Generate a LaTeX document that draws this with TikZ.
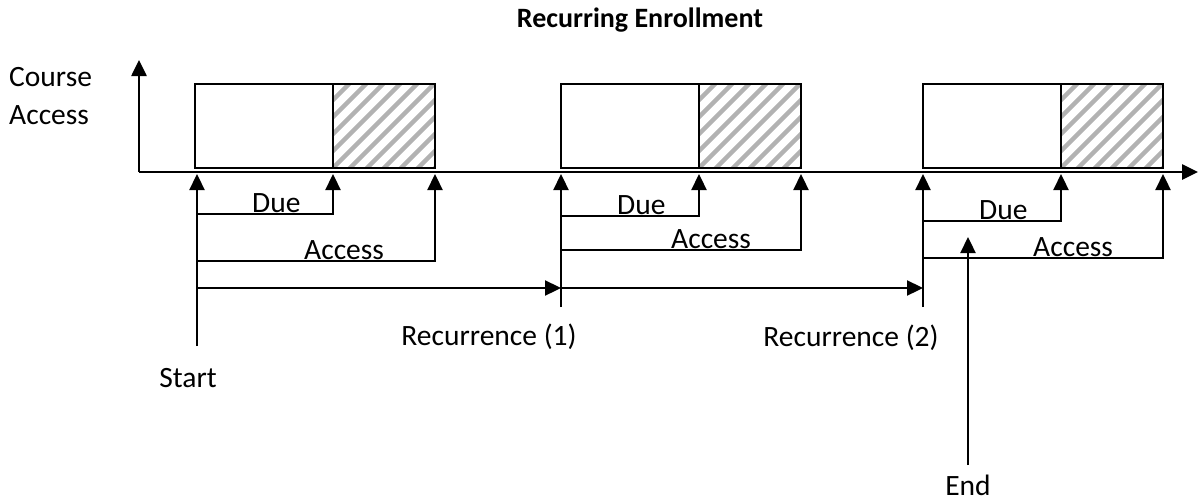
\documentclass[tikz,border=0pt]{standalone}
\usepackage{fontspec}
\setmainfont{Carlito}
\usetikzlibrary{arrows.meta}
\begin{document}
\begin{tikzpicture}[x=1pt,y=-1pt,
  arr/.style={line width=2.3pt,line join=miter,-{Triangle[length=16pt,width=15pt]}},
  axisline/.style={line width=2.6pt,-{Triangle[length=16pt,width=15pt]}},
  boxline/.style={line width=1.8pt},
  hatch/.style={line width=4.5pt,draw=black!30},
  lbl/.style={font=\fontsize{29.5}{35}\selectfont,inner sep=0pt},
  ttl/.style={font=\fontsize{28}{34}\selectfont\bfseries,inner sep=0pt}]
\useasboundingbox (0,0) rectangle (1199,501);

% title and axis labels
\node[ttl] (title) at (640,20) {Recurring Enrollment};
\node[lbl,anchor=west] (course) at (9,77) {Course};
\node[lbl,anchor=west] (access) at (9,115) {Access};

% boxes with hatching
\foreach \n/\l/\d/\r in {1/195/333/435,2/561/699/801,3/923/1061/1163}{
  \coordinate (tl\n) at (\l,84);
  \coordinate (br\n) at (\r,168);
  \coordinate (dt\n) at (\d,84);
  \coordinate (db\n) at (\d,168);
  \begin{scope}
    \clip (dt\n) rectangle (br\n);
    \foreach \k in {-6,...,7}{
      \draw[hatch] (\d+\k*17-10,178) -- (\d+\k*17+94,74);
    }
  \end{scope}
  \draw[boxline] (tl\n) rectangle (br\n);
  \draw[boxline] (dt\n) -- (db\n);
}

% axes
\coordinate (O) at (139,172);
\coordinate (Ytop) at (139,60);
\coordinate (Xend) at (1198,172);
\draw[axisline] (O) -- (Ytop);
\draw[axisline] (O) -- (Xend);

% period arrows
\foreach \n/\x/\d/\r/\dy/\ay/\bot in {1/197/333/435/214/261/346,2/561/699/801/216/250/307,3/923/1061/1163/221/258/307}{
  \coordinate (s\n) at (\x,\bot);
  \coordinate (st\n) at (\x,174);
  \coordinate (du\n) at (\x,\dy);
  \coordinate (dc\n) at (\d,\dy);
  \coordinate (dtip\n) at (\d,174);
  \coordinate (ac\n) at (\x,\ay);
  \coordinate (acc\n) at (\r,\ay);
  \coordinate (atip\n) at (\r,174);
  \draw[arr] (s\n) -- (st\n);
  \draw[arr] (du\n) -- (dc\n) -- (dtip\n);
  \draw[arr] (ac\n) -- (acc\n) -- (atip\n);
}

% Due / Access labels
\node[lbl,anchor=base west] (due1) at (252,212) {Due};
\node[lbl,anchor=base west] (due2) at (617,214) {Due};
\node[lbl,anchor=base west] (due3) at (979,219) {Due};
\node[lbl,anchor=base west] (acl1) at (304,259) {Access};
\node[lbl,anchor=base west] (acl2) at (671,248) {Access};
\node[lbl,anchor=base west] (acl3) at (1033,256) {Access};

% recurrence arrows
\coordinate (r0) at (197,288);
\coordinate (r1) at (561,288);
\coordinate (r2) at (923,288);
\draw[arr] (r0) -- (r1);
\draw[arr] (r1) -- (r2);

% end arrow
\coordinate (e0) at (968,465);
\coordinate (e1) at (968,237);
\draw[arr] (e0) -- (e1);

% bottom labels
\node[lbl] (start) at (188,378) {Start};
\node[lbl] (rec1) at (489,337) {Recurrence (1)};
\node[lbl] (rec2) at (851,338) {Recurrence (2)};
\node[lbl] (endl) at (968,485) {End};
\end{tikzpicture}
\end{document}
